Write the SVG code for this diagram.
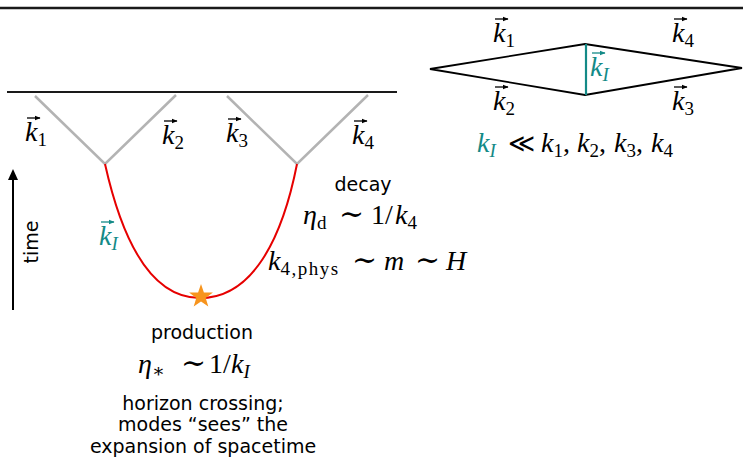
<svg xmlns="http://www.w3.org/2000/svg" width="743" height="460" viewBox="0 0 743 460">
<defs>
<style>
.m{font-family:"Liberation Serif","DejaVu Serif",serif;font-size:28px;fill:#000}
.s{font-size:19px;font-style:normal}
.i{font-style:italic}
.t{font-size:30px;font-style:normal}
.sa{font-family:"DejaVu Sans",Verdana,sans-serif;font-size:19px;fill:#000}
.teal{fill:#138a87}
.g{stroke:#b3b3b3;stroke-width:2.5;fill:none}
.ar{stroke:#000;stroke-width:1.3;fill:none}
.art{stroke:#138a87;stroke-width:1.3;fill:none}
</style>
<marker id="ahs" viewBox="0 0 10 10" refX="9" refY="5" markerWidth="6" markerHeight="6" orient="auto" markerUnits="userSpaceOnUse"><path d="M0,1 L10,5 L0,9 z" fill="#000"/></marker>
<marker id="aht" viewBox="0 0 10 10" refX="9" refY="5" markerWidth="6" markerHeight="6" orient="auto" markerUnits="userSpaceOnUse"><path d="M0,1 L10,5 L0,9 z" fill="#138a87"/></marker>
</defs>
<rect width="743" height="460" fill="#fff"/>
<line x1="0" y1="8" x2="743" y2="8" stroke="#1a1a1a" stroke-width="2.5"/>
<g id="connectors">
<line x1="7" y1="92" x2="397" y2="92" stroke="#1a1a1a" stroke-width="2"/>
<path class="g" d="M35,96 L105,164 L176,95"/>
<path class="g" d="M227,96 L297,164 L368,95"/>
<path d="M105,164 C122,240 150,298 200,298 C252,298 282,240 297,164" stroke="#e60000" stroke-width="2" fill="none"/>
<line x1="13" y1="310" x2="13" y2="174" stroke="#000" stroke-width="2"/>
<path d="M8,180 L13,169 L18,180 z" fill="#000"/>
<path d="M430,69 L585,44 L742,68 L585,95 Z" stroke="#000" stroke-width="1.8" fill="none"/>
<line x1="586" y1="44" x2="586" y2="95" stroke="#138a87" stroke-width="2.2"/>
</g>
<g id="star"><polygon points="201,284 203.9,292.5 212.9,292.6 205.7,298 208.3,306.6 201,301.4 193.7,306.6 196.3,298 189.1,292.6 198.1,292.5" fill="#f7941d"/></g>
<g id="k-labels">
<g id="k1"><text class="m i" x="25" y="141">k<tspan class="s" dy="5">1</tspan></text><path class="ar" d="M27,118 L40,118" marker-end="url(#ahs)"/></g>
<g id="k2"><text class="m i" x="162" y="144">k<tspan class="s" dy="5">2</tspan></text><path class="ar" d="M164,121 L177,121" marker-end="url(#ahs)"/></g>
<g id="k3"><text class="m i" x="226" y="142">k<tspan class="s" dy="5">3</tspan></text><path class="ar" d="M228,119 L241,119" marker-end="url(#ahs)"/></g>
<g id="k4"><text class="m i" x="352" y="144">k<tspan class="s" dy="5">4</tspan></text><path class="ar" d="M354,121 L367,121" marker-end="url(#ahs)"/></g>
<g id="kI"><text class="m i teal" x="99" y="245">k<tspan class="s i" dy="5">I</tspan></text><path class="art" d="M101,222 L114,222" marker-end="url(#aht)"/></g>
</g>
<g id="time"><text class="sa" transform="translate(38,242) rotate(-90)" text-anchor="middle">time</text></g>
<g id="decay">
<text class="sa" x="363" y="191" text-anchor="middle">decay</text>
<text class="m" y="224"><tspan class="i" x="303">η</tspan><tspan class="s" dy="5">d</tspan><tspan class="t" x="339" dy="-5">∼</tspan><tspan x="371">1/</tspan><tspan class="i" x="395">k</tspan><tspan class="s" dy="5">4</tspan></text>
<text class="m" y="270"><tspan class="i" x="268">k</tspan><tspan class="s" dy="5" letter-spacing="1.5">4,phys</tspan><tspan class="t" x="352" dy="-5">∼</tspan><tspan class="i" x="384">m</tspan><tspan class="t" x="415">∼</tspan><tspan class="i" x="446">H</tspan></text>
</g>
<g id="production">
<text class="sa" x="202" y="339" text-anchor="middle">production</text>
<text class="m" y="373"><tspan class="i" x="138">η</tspan><tspan class="s" dy="4">∗</tspan><tspan class="t" x="181" dy="-4">∼</tspan><tspan x="209">1/</tspan><tspan class="i" x="231">k</tspan><tspan class="s i" dy="5">I</tspan></text>
<text class="sa" x="203" y="410" text-anchor="middle">horizon crossing;</text>
<text class="sa" x="203" y="431" text-anchor="middle">modes “sees” the</text>
<text class="sa" x="203" y="453" text-anchor="middle">expansion of spacetime</text>
</g>
<g id="diamond-labels">
<g><text class="m i" x="493" y="42">k<tspan class="s" dy="5">1</tspan></text><path class="ar" d="M495,19 L508,19" marker-end="url(#ahs)"/></g>
<g><text class="m i" x="672" y="42">k<tspan class="s" dy="5">4</tspan></text><path class="ar" d="M674,19 L687,19" marker-end="url(#ahs)"/></g>
<g><text class="m i" x="493" y="110">k<tspan class="s" dy="5">2</tspan></text><path class="ar" d="M495,87 L508,87" marker-end="url(#ahs)"/></g>
<g><text class="m i" x="672" y="110">k<tspan class="s" dy="5">3</tspan></text><path class="ar" d="M674,87 L687,87" marker-end="url(#ahs)"/></g>
<g><text class="m i teal" x="590" y="76">k<tspan class="s i" dy="5">I</tspan></text><path class="art" d="M592,53 L605,53" marker-end="url(#aht)"/></g>
<text class="m" y="152"><tspan class="i teal" x="477">k</tspan><tspan class="s i teal" dy="5">I</tspan><tspan x="508" dy="-5" font-size="26">≪</tspan><tspan class="i" x="541">k</tspan><tspan class="s" dy="5">1</tspan><tspan dy="-5">,</tspan><tspan class="i" x="577">k</tspan><tspan class="s" dy="5">2</tspan><tspan dy="-5">,</tspan><tspan class="i" x="614">k</tspan><tspan class="s" dy="5">3</tspan><tspan dy="-5">,</tspan><tspan class="i" x="651">k</tspan><tspan class="s" dy="5">4</tspan></text>
</g>
</svg>
